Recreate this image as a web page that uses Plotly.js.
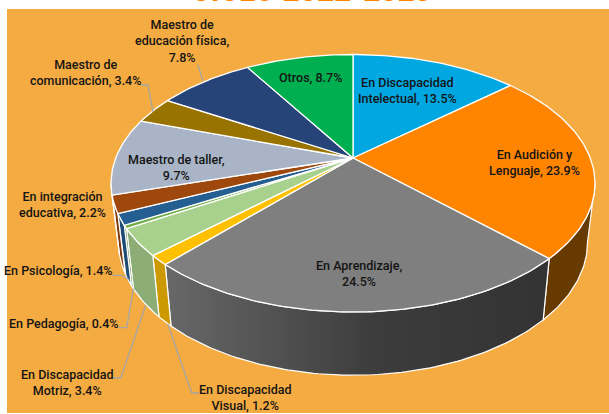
<!DOCTYPE html>
<html><head><meta charset="utf-8">
<script src="https://cdn.plot.ly/plotly-3.0.1.min.js"></script>
<style>html,body{margin:0;padding:0;background:#fff;overflow:hidden}</style>
</head><body><div id="chart" style="width:609px;height:414px"></div>
<script>
// ---- data ----
const categories = ["En Discapacidad Intelectual","En Audición y Lenguaje","En Aprendizaje","En Discapacidad Visual","En Discapacidad Motriz","En Pedagogía","En Psicología","En integración educativa","Maestro de taller","Maestro de comunicación","Maestro de educación física","Otros"];
const shares = [13.5,23.9,24.5,1.2,3.4,0.4,1.4,2.2,9.7,3.4,7.8,8.7];
const topColors = ["#00a7e1","#ff8400","#7f7f7f","#ffc000","#a9d18e","#70ad47","#255e91","#9e480e","#a9b4c6","#997300","#264478","#00b050"];
const sideColors = ["#006a8f","#663a00","#555555","#cc9a00","#8cae76","#5a8a39","#1e4b74","#7e390b","#87909e","#7a5c00","#1e365f","#008d40"];
const labelLines = [
 ["En Discapacidad<br>Intelectual, 13.5%",407,90.5],
 ["En Audición y<br>Lenguaje, 23.9%",534,162],
 ["En Aprendizaje,<br>24.5%",359,273],
 ["En Discapacidad<br>Visual, 1.2%",245,397.5],
 ["En Discapacidad<br>Motriz, 3.4%",67,382],
 ["En Pedagogía, 0.4%",63.5,323],
 ["En Psicología, 1.4%",58.5,270],
 ["En integración<br>educativa, 2.2%",62,204.5],
 ["Maestro de taller,<br>9.7%",176,167],
 ["Maestro de<br>comunicación, 3.4%",85,72.5],
 ["Maestro de<br>educación física,<br>7.8%",182,41],
 ["Otros, 8.7%",310,77]
];
const leaders = [
 [[199,191.7,167.7],[393,393,323.7]],
 [[113.3,120.7,145.7],[378,378,305.3]],
 [[118.3,126.7,133.3],[327.7,327.7,288.7]],
 [[112.7,121.7,129.3],[275.3,275.3,279.7]],
 [[141,148,153],[85,85,112]],
 [[198,203],[65,81]]
];
const titleText = "CICLO 2022-2023";

// ---- perspective disc geometry (pixel-like axes) ----
const persp = 0.196, deg = Math.PI/180;
const topDisc = {cx:353, cy:158, A:237.3, B:123.8};
const botDisc = {cx:353, cy:216, A:230, B:128};
function pt(d, thetaDeg){
  const u = Math.sin(thetaDeg*deg), v = Math.cos(thetaDeg*deg), w = 1 + persp*v;
  return [d.cx + d.A*u/w, d.cy - d.B*v/w];
}
function arc(d, a, b){
  const n = Math.max(2, Math.ceil(Math.abs(b-a))), out = [];
  for(let i=0;i<=n;i++) out.push(pt(d, a+(b-a)*i/n));
  return out;
}
const total = shares.reduce((s,v)=>s+v,0);
let acc = 0;
const spans = shares.map(v=>{const a=acc/total*360; acc+=v; return [a, acc/total*360];});
const sideFrom = 90 + Math.asin(persp)/deg, sideTo = 360 - sideFrom;

const traces = [];
// side walls
spans.forEach((s,i)=>{
  const a = Math.max(s[0], sideFrom), b = Math.min(s[1], sideTo);
  if(b <= a) return;
  const poly = arc(topDisc,a,b).concat(arc(botDisc,a,b).reverse());
  poly.push(poly[0]);
  const t = {type:"scatter",mode:"lines",x:poly.map(p=>p[0]),y:poly.map(p=>p[1]),fill:"toself",
    fillcolor:sideColors[i],line:{color:"#ffffff",width:1.2},hoverinfo:"skip",showlegend:false};
  if(i===2) t.fillgradient = {type:"horizontal",colorscale:[[0,"#686868"],[0.55,"#3c3c3c"],[1,"#333333"]]};
  traces.push(t);
});
// top face
spans.forEach((s,i)=>{
  const poly = [[topDisc.cx,topDisc.cy]];
  arc(topDisc,s[0],s[1]).forEach(p=>poly.push(p));
  poly.push([topDisc.cx,topDisc.cy]);
  traces.push({type:"scatter",mode:"lines",x:poly.map(p=>p[0]),y:poly.map(p=>p[1]),fill:"toself",
    fillcolor:topColors[i],line:{color:"#ffffff",width:1.3},name:categories[i],
    text:categories[i]+", "+shares[i]+"%",hoverinfo:"text",showlegend:false});
});
// leader lines
leaders.forEach(l=>traces.push({type:"scatter",mode:"lines",x:l[0],y:l[1],line:{color:"#a6a6a6",width:1.3},hoverinfo:"skip",showlegend:false}));

const labelFont = {family:"Roboto,sans-serif",size:12.5,weight:500,color:"#141414"};
const annotations = labelLines.map(l=>({x:l[1],y:l[2],xref:"x",yref:"y",text:l[0],showarrow:false,font:labelFont,align:"center",xanchor:"center",yanchor:"middle"}));
annotations.push({x:311,y:1,xref:"x",yref:"paper",yanchor:"bottom",xanchor:"center",yshift:-1,text:"<b>"+titleText+"</b>",showarrow:false,
  font:{family:"Roboto,sans-serif",size:30,color:"#ff8400"}});

const layout = {
  width:609,height:414,margin:{l:7,r:0,t:9,b:1},
  paper_bgcolor:"#ffffff",plot_bgcolor:"#f4ab41",showlegend:false,
  xaxis:{range:[7,609],visible:false,fixedrange:true},
  yaxis:{range:[413,9],visible:false,fixedrange:true},
  annotations
};
Plotly.newPlot("chart",traces,layout,{displayModeBar:false,staticPlot:true});
</script></body></html>
